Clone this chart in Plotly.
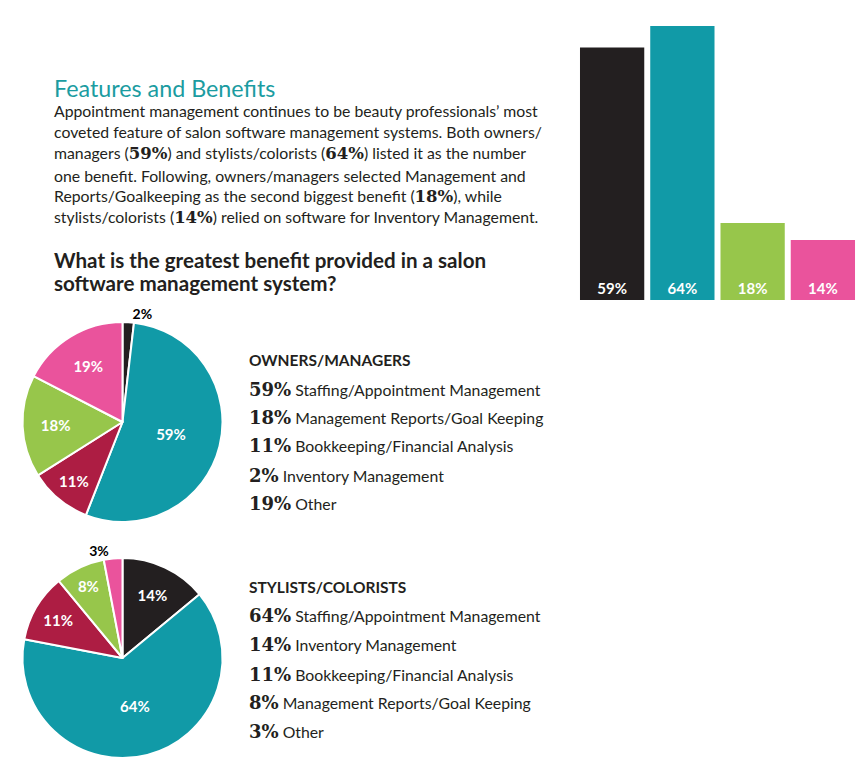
import plotly.graph_objects as go

W, H = 862, 775

# ---------------- data ----------------
categories = ["Inventory Management", "Staffing/Appointment Management",
              "Bookkeeping/Financial Analysis", "Management Reports/Goal Keeping", "Other"]
owners_values = [2, 59, 11, 18, 19]
stylists_values = [14, 64, 11, 8, 3]
owners_legend_order = [1, 3, 2, 0, 4]
stylists_legend_order = [1, 0, 2, 3, 4]

bar_categories = ["Owners: Appointment", "Stylists: Appointment",
                  "Owners: Reports/Goal Keeping", "Stylists: Inventory"]
bar_values = [59, 64, 18, 14]

title_text = "Features and Benefits"
paragraph_lines = [
    "Appointment management continues to be beauty professionals\u2019 most",
    "coveted feature of salon software management systems. Both owners/",
    "managers ({59}) and stylists/colorists ({64}) listed it as the number",
    "one benefit. Following, owners/managers selected Management and",
    "Reports/Goalkeeping as the second biggest benefit ({18}), while",
    "stylists/colorists ({14}) relied on software for Inventory Management.",
]
question_lines = ["What is the greatest benefit provided in a salon",
                  "software management system?"]

# ---------------- styles ----------------
BLACK = "#231f20"
TEAL = "#119aa7"
CRIMSON = "#ad1d43"
GREEN = "#97c64b"
PINK = "#ea539c"
TITLE_TEAL = "#1b9ca1"
cat_colors = [BLACK, TEAL, CRIMSON, GREEN, PINK]
bar_colors = [BLACK, TEAL, GREEN, PINK]
SANS = "Lato"
SLAB = "DejaVu Serif"


def py(p):
    return 1 - p / H


def px(p):
    return p / W


def slab(s, size=16):
    return f"<b><span style='font-family:{SLAB};font-size:{size}px'>{s}</span></b>"


fig = go.Figure()

# bar chart
fig.add_trace(go.Bar(
    x=bar_categories, y=bar_values,
    marker=dict(color=bar_colors, line=dict(width=0)),
    text=[f"<b>{v}%</b>" for v in bar_values],
    textposition="inside", insidetextanchor="start",
    textfont=dict(family=SANS, size=15, color="white"),
    textangle=0, showlegend=False, hoverinfo="skip",
    xaxis="x", yaxis="y",
))


def pie(values, pos, domain):
    fig.add_trace(go.Pie(
        labels=categories, values=values, sort=False, direction="clockwise", rotation=0,
        marker=dict(colors=cat_colors, line=dict(color="white", width=2)),
        text=[f"<b>{v}%</b>" for v in values], textinfo="text",
        textposition=pos, insidetextorientation="horizontal",
        insidetextfont=dict(family=SANS, size=15, color="white"),
        outsidetextfont=dict(family=SANS, size=14, color="black"),
        domain=domain, showlegend=False, hoverinfo="skip",
    ))


pie(owners_values, ["outside", "inside", "inside", "inside", "inside"],
    dict(x=[px(22.5), px(222.5)], y=[py(522), py(322)]))
pie(stylists_values, ["inside", "inside", "inside", "inside", "outside"],
    dict(x=[px(22.5), px(222.5)], y=[py(758), py(558)]))

ann = []
ann.append(dict(text=title_text, x=px(52), y=py(88), xanchor="left", yanchor="middle",
                font=dict(family=SANS, size=23.3, color=TITLE_TEAL)))
para_y = [110, 132, 153, 175, 196, 217]
for line, yy in zip(paragraph_lines, para_y):
    t = line
    for v in ["59", "64", "18", "14"]:
        t = t.replace("{" + v + "}", slab(v + "%", 16.5))
    ann.append(dict(text=t, x=px(52), y=py(yy), xanchor="left", yanchor="middle",
                    font=dict(family=SANS, size=15.8, color="#231f20")))
for line, yy in zip(question_lines, [260, 283]):
    ann.append(dict(text=f"<b>{line}</b>", x=px(52), y=py(yy), xanchor="left", yanchor="middle",
                    font=dict(family=SANS, size=20.6, color="#231f20")))


def legend_block(header, values, order, y0, ys):
    ann.append(dict(text=f"<b>{header}</b>", x=px(247), y=py(y0), xanchor="left", yanchor="middle",
                    font=dict(family=SANS, size=15.5, color="#231f20")))
    for i, yy in zip(order, ys):
        ann.append(dict(text=slab(f"{values[i]}%", 18) + " " + categories[i],
                        x=px(247), y=py(yy), xanchor="left", yanchor="middle",
                        font=dict(family=SANS, size=15.8, color="#231f20")))


legend_block("OWNERS/MANAGERS", owners_values, owners_legend_order, 360, [389, 418, 446, 475, 503])
legend_block("STYLISTS/COLORISTS", stylists_values, stylists_legend_order, 587, [615, 644, 674, 702, 731])

for a in ann:
    a.update(xref="paper", yref="paper", showarrow=False, align="left")

fig.update_layout(
    width=W, height=H, margin=dict(l=0, r=0, t=0, b=0),
    paper_bgcolor="white", plot_bgcolor="white",
    xaxis=dict(domain=[px(577), px(858)], visible=False, fixedrange=True),
    yaxis=dict(domain=[py(300), py(26)], range=[0, 64], visible=False, fixedrange=True),
    bargap=0.085,
    annotations=ann,
    font=dict(family=SANS),
)

fig.write_html("out.html")
